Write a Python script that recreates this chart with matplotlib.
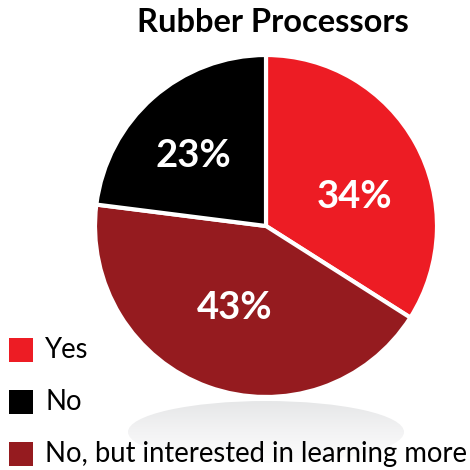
import numpy as np
import matplotlib
matplotlib.use("Agg")
from matplotlib import pyplot as plt
from matplotlib.patches import Ellipse, Rectangle

plt.rcParams['font.family'] = ['Lato', 'DejaVu Sans']

title = 'Rubber Processors'
labels = ['Yes', 'No, but interested in learning more', 'No']
shares = [34, 43, 23]
colors = ['#ed1c24', '#951b1f', '#000000']
legend_order = [0, 2, 1]  # Yes, No, No but...
# label placement: fraction of radius, angle nudge in degrees
pct_dist = [0.55, 0.50, 0.60]
pct_turn = [-9.4, -1.6, 3.6]

fig = plt.figure(figsize=(4.7, 4.7), dpi=100)
ax = fig.add_axes([0, 0, 1, 1])

# soft shadow under the pie
cx, cy, r = 266, 244, 171
sh = Ellipse((266, 38), 276, 62, facecolor='none', edgecolor='none')
ax.add_patch(sh)
grad = np.linspace(0, 1, 100).reshape(-1, 1)
grad = np.repeat(grad, 2, axis=1)
im = ax.imshow(grad, extent=(128, 404, 7, 69), origin='lower',
               cmap=matplotlib.colors.LinearSegmentedColormap.from_list(
                   'shade', ['#fdfdfd', '#f3f3f4', '#e6e7e8']),
               aspect='auto', zorder=0)
im.set_clip_path(sh)

wedges, _ = ax.pie(shares, colors=colors, startangle=90, counterclock=False,
                   center=(cx, cy), radius=r, frame=True,
                   wedgeprops=dict(edgecolor='white', linewidth=3))
ax.set_xlim(0, 470)
ax.set_ylim(0, 470)
ax.axis('off')

for w, val, d, t in zip(wedges, shares, pct_dist, pct_turn):
    ang = np.deg2rad((w.theta1 + w.theta2) / 2 + t)
    ax.text(cx + d * r * np.cos(ang), cy + d * r * np.sin(ang) - 13.5,
            f'{val}%', color='white', fontsize=27.5, fontweight='bold',
            ha='center', va='baseline')

ax.text(273, 448, title, fontsize=23.5, fontweight='bold',
        ha='center', va='center')

# legend
for k, i in enumerate(legend_order):
    y = 120 - k * 52
    ax.add_patch(Rectangle((9, y - 12), 24, 24, facecolor=colors[i],
                           edgecolor='none'))
    ax.text(45, y, labels[i], fontsize=19.8, ha='left', va='center')

fig.savefig('out.png', dpi=100)
